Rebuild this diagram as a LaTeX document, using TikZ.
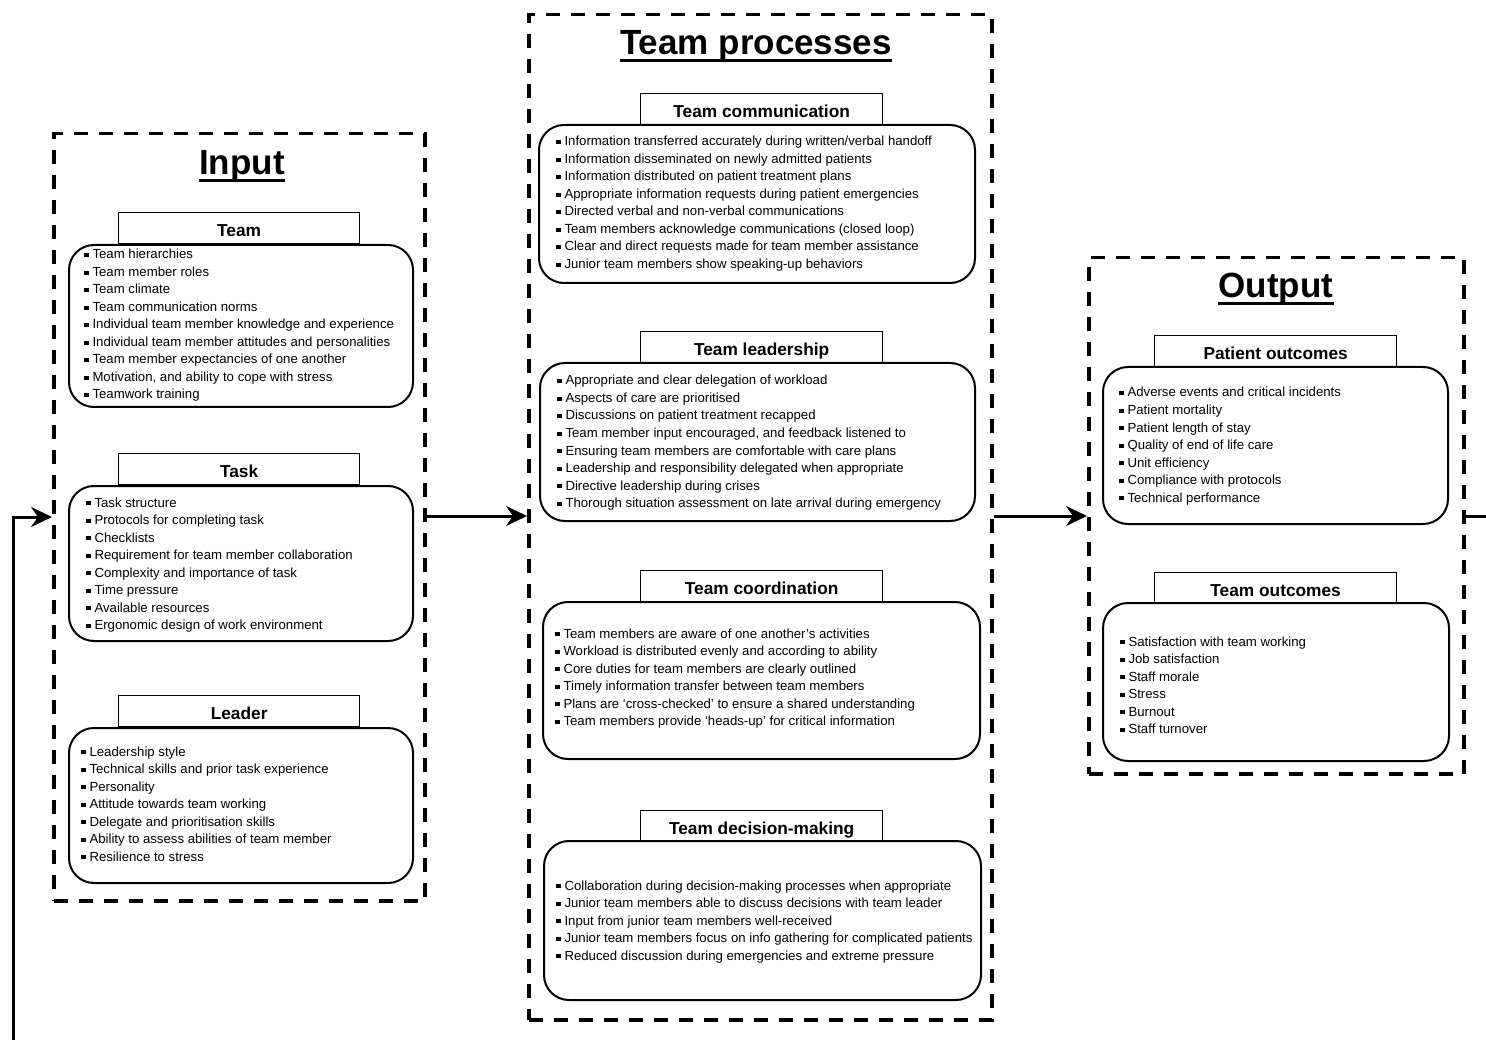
\documentclass[tikz,border=0pt]{standalone}
\usepackage{fontspec}
\setmainfont{Liberation Sans}
\usetikzlibrary{arrows.meta}
\newcommand{\ttlfont}{\fontsize{35}{40}\selectfont\bfseries}
\newcommand{\hdrfont}{\fontsize{17.3}{20}\selectfont\bfseries}
\newcommand{\itemfont}{\fontsize{13.2}{15}\selectfont}
\newcommand{\bul}{\rule[1.6pt]{4.3pt}{4.3pt}\hspace{4pt}}
\newcommand{\itemlist}[4]{\foreach \itm [count=\i] in {#4} {\node[item] (#1\i) at (#2,{#3+(\i-1)*17.5}) {\bul\itm};}}
\tikzset{
  container/.style={draw, line width=3.5pt, dash pattern=on 14pt off 11pt, inner sep=0pt, anchor=north west},
  body/.style={draw, line width=2pt, rounded corners=25pt, inner sep=0pt, anchor=north west},
  hdr/.style={draw, line width=1.3pt, fill=white, inner sep=0pt, anchor=north west, font=\hdrfont, text height=16.4pt, text depth=0pt},
  item/.style={anchor=base west, inner sep=0pt, font=\itemfont},
  ttl/.style={inner sep=0pt, anchor=base, font=\ttlfont},
  ul/.style={line width=3pt},
  conn/.style={line width=3pt},
  arr/.style={line width=3pt, -{Stealth[length=21pt, width=20pt, inset=7pt]}}
}
\begin{document}
\begin{tikzpicture}[x=1pt,y=-1pt]
\useasboundingbox (0,0) rectangle (1486,1040);

% containers
\node[container, minimum width=371pt, minimum height=767pt] (input) at (52,132) {};
\node[container, minimum width=463pt, minimum height=1005pt] (proc) at (527,13) {};
\node[container, minimum width=375pt, minimum height=516pt] (output) at (1087,256) {};

% titles
\node[ttl] (tin) at (242,175) {Input};
\node[ttl] (tproc) at (756,55) {Team processes};
\node[ttl] (tout) at (1276,298) {Output};
\foreach \n in {tin,tproc,tout} {\draw[ul] ([yshift=-5.5pt]\n.base west) -- ([yshift=-5.5pt]\n.base east);}

% Input: Team
\node[hdr, minimum width=241pt, minimum height=31pt] (hteam) at (118,212) {Team};
\node[body, minimum width=344pt, minimum height=162pt] (bteam) at (68,244) {};
\itemlist{teamL}{84}{259}{Team hierarchies, Team member roles, Team climate, Team communication norms, Individual team member knowledge and experience, Individual team member attitudes and personalities, Team member expectancies of one another, {Motivation, and ability to cope with stress}, Teamwork training}

% Input: Task
\node[hdr, minimum width=241pt, minimum height=31pt] (htask) at (118,453) {Task};
\node[body, minimum width=344pt, minimum height=155pt] (btask) at (68,485) {};
\itemlist{taskL}{86}{507}{Task structure, Protocols for completing task, Checklists, Requirement for team member collaboration, Complexity and importance of task, Time pressure, Available resources, Ergonomic design of work environment}

% Input: Leader
\node[hdr, minimum width=241pt, minimum height=31pt] (hlead) at (118,695) {Leader};
\node[body, minimum width=344pt, minimum height=155pt] (blead) at (68,727) {};
\itemlist{leadL}{81}{756}{Leadership style, Technical skills and prior task experience, Personality, Attitude towards team working, Delegate and prioritisation skills, Ability to assess abilities of team member, Resilience to stress}

% Processes: communication
\node[hdr, minimum width=242pt, minimum height=31pt] (hcomm) at (640,93) {Team communication};
\node[body, minimum width=436pt, minimum height=158pt] (bcomm) at (538,124) {};
\itemlist{commL}{556}{146}{Information transferred accurately during written/verbal handoff, Information disseminated on newly admitted patients, Information distributed on patient treatment plans, Appropriate information requests during patient emergencies, Directed verbal and non-verbal communications, Team members acknowledge communications (closed loop), Clear and direct requests made for team member assistance, Junior team members show speaking-up behaviors}

% Processes: leadership
\node[hdr, minimum width=242pt, minimum height=31pt] (hlship) at (640,331) {Team leadership};
\node[body, minimum width=435pt, minimum height=158pt] (blship) at (539,362) {};
\itemlist{lshipL}{557}{385}{Appropriate and clear delegation of workload, Aspects of care are prioritised, Discussions on patient treatment recapped, {Team member input encouraged, and feedback listened to}, Ensuring team members are comfortable with care plans, Leadership and responsibility delegated when appropriate, Directive leadership during crises, Thorough situation assessment on late arrival during emergency}

% Processes: coordination
\node[hdr, minimum width=242pt, minimum height=31pt] (hcoord) at (640,570) {Team coordination};
\node[body, minimum width=437pt, minimum height=157pt] (bcoord) at (542,601) {};
\itemlist{coordL}{555}{638}{Team members are aware of one another’s activities, Workload is distributed evenly and according to ability, Core duties for team members are clearly outlined, Timely information transfer between team members, Plans are ‘cross-checked’ to ensure a shared understanding, Team members provide ‘heads-up’ for critical information}

% Processes: decision-making
\node[hdr, minimum width=242pt, minimum height=31pt] (hdec) at (640,810) {Team decision-making};
\node[body, minimum width=437pt, minimum height=159pt] (bdec) at (543,840) {};
\itemlist{decL}{556}{890}{Collaboration during decision-making processes when appropriate, Junior team members able to discuss decisions with team leader, Input from junior team members well-received, Junior team members focus on info gathering for complicated patients, Reduced discussion during emergencies and extreme pressure}

% Output: patient outcomes
\node[hdr, minimum width=242pt, minimum height=31pt] (hpat) at (1154,335) {Patient outcomes};
\node[body, minimum width=345pt, minimum height=157pt] (bpat) at (1102,366) {};
\itemlist{patL}{1119}{397}{Adverse events and critical incidents, Patient mortality, Patient length of stay, Quality of end of life care, Unit efficiency, Compliance with protocols, Technical performance}

% Output: team outcomes
\node[hdr, minimum width=242pt, minimum height=31pt] (htout) at (1154,572) {Team outcomes};
\node[body, minimum width=346pt, minimum height=158pt] (btout) at (1102,602) {};
\itemlist{toutL}{1120}{646}{Satisfaction with team working, Job satisfaction, Staff morale, Stress, Burnout, Staff turnover}

% connectors
\coordinate (yA) at (0,516);
\coordinate (fb0) at (13,1060);
\coordinate (fb1) at (13,517);
\coordinate (oe) at (1500,516);
\draw[arr] (input.east |- yA) -- (proc.west |- yA);
\draw[arr] (proc.east |- yA) -- (output.west |- yA);
\draw[conn] (output.east |- yA) -- (oe);
\draw[arr] (fb0) -- (fb1) -- (input.west |- fb1);
\end{tikzpicture}
\end{document}
